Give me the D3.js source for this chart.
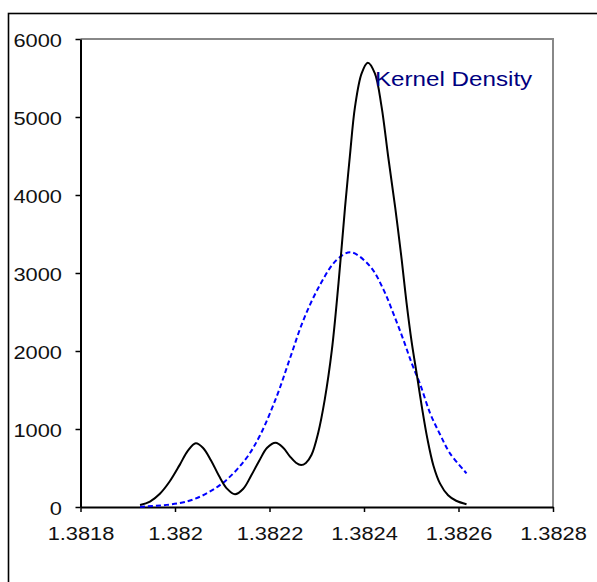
<!DOCTYPE html>
<html>
<head>
<meta charset="utf-8">
<script src="https://cdn.jsdelivr.net/npm/d3@7"></script>
<style>
  html, body { margin: 0; padding: 0; background: #fff; }
  svg { display: block; }
</style>
</head>
<body>
<script>
// ---- Data ----
const xTicks = [1.3818, 1.3820, 1.3822, 1.3824, 1.3826, 1.3828];
const xTickLabels = ["1.3818", "1.382", "1.3822", "1.3824", "1.3826", "1.3828"];
const yTicks = [0, 1000, 2000, 3000, 4000, 5000, 6000];
const yTickLabels = ["0", "1000", "2000", "3000", "4000", "5000", "6000"];

// Kernel density (black solid)
const kernelX = [1.381926, 1.381947, 1.381968, 1.381989, 1.382010, 1.382027, 1.382044, 1.382059,
  1.382076, 1.382093, 1.382110, 1.382127, 1.382144, 1.382161, 1.382178, 1.382195, 1.382213,
  1.382229, 1.382243, 1.382256, 1.382267, 1.382277, 1.382289, 1.382303, 1.382317, 1.382332,
  1.382346, 1.382360, 1.382370, 1.382381, 1.382395, 1.382408, 1.382423, 1.382437, 1.382451,
  1.382466, 1.382480, 1.382490, 1.382501, 1.382512, 1.382522, 1.382534, 1.382547, 1.382561,
  1.382578, 1.382595, 1.382617];
const kernelY = [25, 70, 170, 330, 540, 720, 817, 760,
  600, 400, 235, 163, 230, 400, 590, 760, 824,
  760, 650, 568, 538, 565, 670, 950, 1380, 2013,
  2868, 3850, 4491, 5132, 5560, 5696, 5560, 5140, 4500,
  3840, 3160, 2620, 2110, 1690, 1300, 880, 530, 300,
  150, 80, 35];

// Normal curve (blue dashed)
const normalX = [1.381926, 1.382025, 1.382095, 1.382148, 1.382180, 1.382215, 1.382243, 1.382272,
  1.382307, 1.382342, 1.382372, 1.382413, 1.382441, 1.382462, 1.382483, 1.382501, 1.382519,
  1.382540, 1.382561, 1.382582, 1.382617];
const normalY = [4, 70, 280, 602, 920, 1414, 1900, 2400,
  2850, 3167, 3265, 3085, 2790, 2483, 2150, 1842, 1570,
  1201, 930, 688, 432];

const legendLabel = "Kernel Density";

// ---- Drawing ----
const W = 597, H = 582;
const FONT = "'Liberation Sans', Arial, sans-serif";
const svg = d3.select("body").append("svg").attr("width", W).attr("height", H);

// outer frame
svg.append("rect")
  .attr("x", 8.5).attr("y", 13.5).attr("width", 700).attr("height", 700)
  .attr("fill", "none").attr("stroke", "#000").attr("stroke-width", 1.6);

const x = d3.scaleLinear().domain([1.3818, 1.3828]).range([80.5, 553]);
const y = d3.scaleLinear().domain([0, 6000]).range([507, 39]);

// plot border (top & right, gray)
svg.append("path")
  .attr("d", `M${x(1.3818)},${y(6000)}H${x(1.3828)}V${y(0)}`)
  .attr("fill", "none").attr("stroke", "#888").attr("stroke-width", 2);

// Y axis
const gy = svg.append("g").attr("transform", `translate(${x(1.3818)},0)`)
  .call(d3.axisLeft(y).tickValues(yTicks).tickSize(5).tickSizeOuter(0)
    .tickFormat((d, i) => yTickLabels[i]));
gy.select(".domain").attr("stroke", "#000").attr("stroke-width", 2);
gy.selectAll(".tick line").attr("stroke", "#000").attr("stroke-width", 1.5);
gy.selectAll(".tick text")
  .attr("x", null).attr("dy", null)
  .attr("transform", "translate(-18.5,7) scale(1.18,1)")
  .attr("text-anchor", "end")
  .attr("fill", "#111")
  .style("font-family", FONT).style("font-size", "18.5px");

// X axis
const gx = svg.append("g").attr("transform", `translate(0,${y(0)})`)
  .call(d3.axisBottom(x).tickValues(xTicks).tickSize(5).tickSizeOuter(0)
    .tickFormat((d, i) => xTickLabels[i]));
gx.select(".domain").attr("stroke", "#000").attr("stroke-width", 2);
gx.selectAll(".tick line").attr("stroke", "#000").attr("stroke-width", 1.5);
gx.selectAll(".tick text")
  .attr("y", null).attr("dy", null)
  .attr("transform", "translate(0,33) scale(1.18,1)")
  .attr("text-anchor", "middle")
  .attr("fill", "#111")
  .style("font-family", FONT).style("font-size", "18.5px");

// curves
const line = d3.line().x(d => x(d[0])).y(d => y(d[1])).curve(d3.curveCatmullRom.alpha(0.5));

svg.append("path")
  .datum(normalX.map((v, i) => [v, normalY[i]]))
  .attr("d", line)
  .attr("fill", "none").attr("stroke", "#0000ff").attr("stroke-width", 2)
  .attr("stroke-dasharray", "5,3");

svg.append("path")
  .datum(kernelX.map((v, i) => [v, kernelY[i]]))
  .attr("d", line)
  .attr("fill", "none").attr("stroke", "#000").attr("stroke-width", 2);

// legend label
svg.append("text")
  .attr("transform", "translate(375,86) scale(1.18,1)")
  .attr("fill", "#000080")
  .style("font-family", FONT).style("font-size", "20.5px")
  .text(legendLabel);
</script>
</body>
</html>
